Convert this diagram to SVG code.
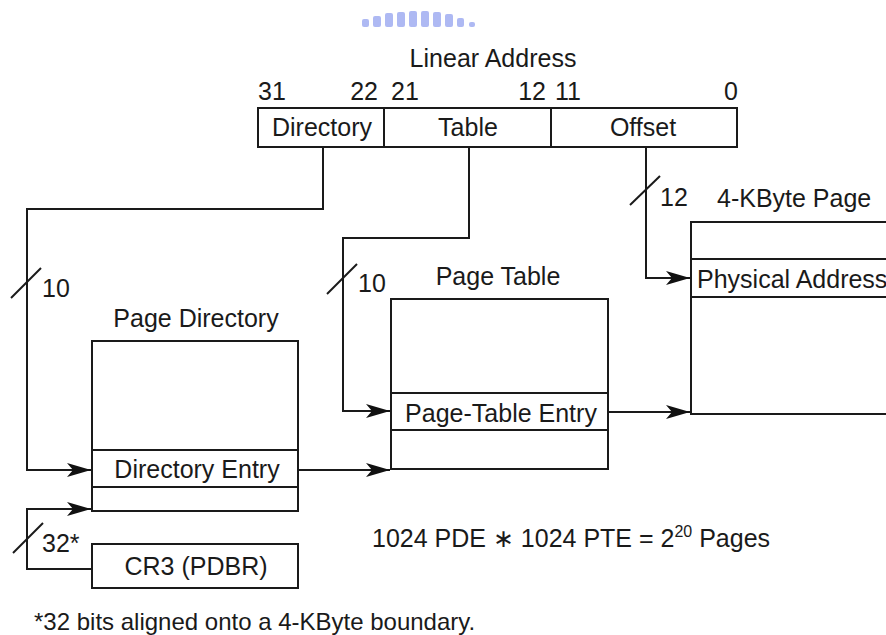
<svg xmlns="http://www.w3.org/2000/svg" width="886" height="635" viewBox="0 0 886 635">
<style>
text{font-family:"Liberation Sans",Arial,sans-serif;font-size:25px;fill:#1a1a1a}
.m{text-anchor:middle}
.e{text-anchor:end}
.b{fill:none;stroke:#1a1a1a;stroke-width:2}
.c{fill:none;stroke:#1a1a1a;stroke-width:2}
.wm{fill:#9aa8f0;opacity:0.8}
.fn{font-size:24px}
</style>
<defs>
<marker id="ah" viewBox="0 0 24 14" refX="24" refY="7" markerWidth="24" markerHeight="14" markerUnits="userSpaceOnUse" orient="auto">
<path d="M0,0 L24,7 L0,14 L6,7 Z" fill="#111"/>
</marker>
</defs>
<rect width="886" height="635" fill="#fff"/>
<g id="watermark">
<rect class="wm" x="362" y="19" width="7" height="8" rx="2"/>
<rect class="wm" x="373" y="16" width="8" height="11" rx="2"/>
<rect class="wm" x="385" y="13" width="8" height="14" rx="2"/>
<rect class="wm" x="397" y="12" width="8" height="15" rx="2"/>
<rect class="wm" x="409" y="11" width="8" height="16" rx="2"/>
<rect class="wm" x="421" y="11" width="8" height="16" rx="2"/>
<rect class="wm" x="433" y="12" width="8" height="15" rx="2"/>
<rect class="wm" x="445" y="14" width="8" height="13" rx="2"/>
<rect class="wm" x="457" y="18" width="7" height="9" rx="2"/>
<rect class="wm" x="469" y="22" width="6" height="5" rx="2"/>
</g>
<g id="linear-address">
<text class="m" x="493" y="67">Linear Address</text>
<text x="258" y="100">31</text>
<text class="e" x="378" y="100">22</text>
<text x="391" y="100">21</text>
<text class="e" x="546" y="100">12</text>
<text x="555" y="100">11</text>
<text class="e" x="738" y="100">0</text>
<rect class="b" x="258" y="108" width="479" height="39"/>
<line class="b" x1="384" y1="108" x2="384" y2="147"/>
<line class="b" x1="551" y1="108" x2="551" y2="147"/>
<text class="m" x="322" y="136">Directory</text>
<text class="m" x="468" y="136">Table</text>
<text class="m" x="643" y="136">Offset</text>
</g>
<g id="page-directory">
<text class="m" x="196" y="327">Page Directory</text>
<rect class="b" x="92" y="341" width="206" height="170"/>
<line class="b" x1="92" y1="450" x2="298" y2="450"/>
<line class="b" x1="92" y1="487" x2="298" y2="487"/>
<text class="m" x="197" y="478">Directory Entry</text>
</g>
<g id="cr3">
<rect class="b" x="92" y="544" width="206" height="44"/>
<text class="m" x="196" y="575">CR3 (PDBR)</text>
</g>
<g id="page-table">
<text class="m" x="498" y="285">Page Table</text>
<rect class="b" x="391" y="299" width="217" height="170"/>
<line class="b" x1="391" y1="393" x2="608" y2="393"/>
<line class="b" x1="391" y1="430" x2="608" y2="430"/>
<text class="m" x="501" y="422">Page-Table Entry</text>
</g>
<g id="page">
<text x="717" y="207">4-KByte Page</text>
<path class="b" d="M890,222 H691 V414 H890"/>
<line class="b" x1="691" y1="259" x2="890" y2="259"/>
<line class="b" x1="691" y1="297" x2="890" y2="297"/>
<text x="697" y="288">Physical Address</text>
</g>
<g id="connectors">
<polyline class="c" points="323,147 323,209 27,209 27,470 91,470" marker-end="url(#ah)"/>
<polyline class="c" points="469,147 469,238 343,238 343,411 390,411" marker-end="url(#ah)"/>
<polyline class="c" points="646,147 646,278 690,278" marker-end="url(#ah)"/>
<line class="c" x1="298" y1="470" x2="390" y2="470" marker-end="url(#ah)"/>
<line class="c" x1="608" y1="412" x2="690" y2="412" marker-end="url(#ah)"/>
<polyline class="c" points="92,569 27,569 27,509 91,509" marker-end="url(#ah)"/>
<line class="c" x1="11" y1="298" x2="41" y2="268"/>
<line class="c" x1="327" y1="294" x2="357" y2="264"/>
<line class="c" x1="630" y1="205" x2="660" y2="176"/>
<line class="c" x1="13" y1="553" x2="43" y2="523"/>
<text x="42" y="297">10</text>
<text x="358" y="292">10</text>
<text x="660" y="206">12</text>
<text x="42" y="552">32*</text>
</g>
<g id="notes">
<text x="372" y="547">1024 PDE ∗ 1024 PTE = 2<tspan font-size="16" dy="-10">20</tspan><tspan dy="10"> Pages</tspan></text>
<text class="fn" x="34" y="630">*32 bits aligned onto a 4-KByte boundary.</text>
</g>
</svg>
